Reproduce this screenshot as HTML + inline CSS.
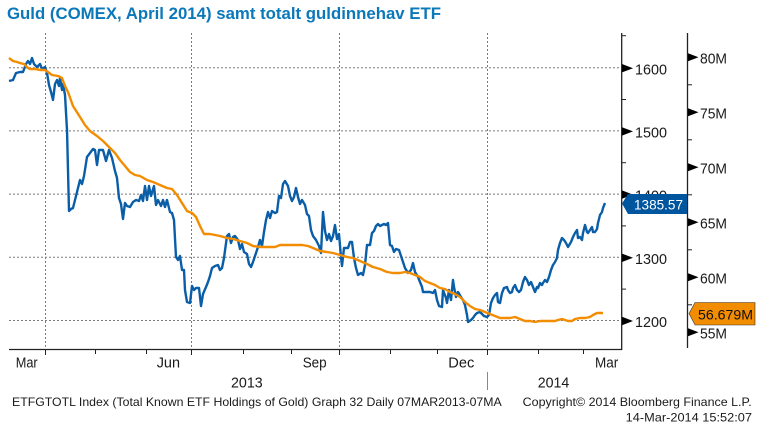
<!DOCTYPE html>
<html><head><meta charset="utf-8"><style>
html,body{margin:0;padding:0;background:#fff;}
svg{display:block;}
text{font-family:"Liberation Sans",sans-serif;}
</style></head><body>
<svg width="761" height="433" viewBox="0 0 761 433" xmlns="http://www.w3.org/2000/svg">
<rect width="761" height="433" fill="#fff"/>
<text x="7" y="19" font-size="16.5" font-weight="bold" fill="#0b78b9" textLength="434" lengthAdjust="spacingAndGlyphs">Guld (COMEX, April 2014) samt totalt guldinnehav ETF</text>

<!-- gridlines -->
<g stroke="#7a7a7a" stroke-width="1" stroke-dasharray="2,2" fill="none">
<line x1="9" y1="67.7" x2="621" y2="67.7"/>
<line x1="9" y1="130.9" x2="621" y2="130.9"/>
<line x1="9" y1="194.1" x2="621" y2="194.1"/>
<line x1="9" y1="257.3" x2="621" y2="257.3"/>
<line x1="9" y1="320.5" x2="621" y2="320.5"/>
<line x1="45.5" y1="33" x2="45.5" y2="349"/>
<line x1="191.5" y1="33" x2="191.5" y2="349"/>
<line x1="339.5" y1="33" x2="339.5" y2="349"/>
<line x1="487.5" y1="33" x2="487.5" y2="349"/>
</g>

<!-- axes -->
<g stroke="#222" stroke-width="1.3" fill="none">
<line x1="9" y1="349.5" x2="622" y2="349.5"/>
<line x1="621.7" y1="33" x2="621.7" y2="350"/>
<line x1="687.5" y1="33" x2="687.5" y2="348"/>
</g>
<g stroke="#222" stroke-width="1" fill="none">
<line x1="45.5" y1="349" x2="45.5" y2="355"/>
<line x1="95.5" y1="349" x2="95.5" y2="354"/>
<line x1="146.5" y1="349" x2="146.5" y2="354"/>
<line x1="191.5" y1="349" x2="191.5" y2="355"/>
<line x1="243.5" y1="349" x2="243.5" y2="354"/>
<line x1="291.5" y1="349" x2="291.5" y2="354"/>
<line x1="339.5" y1="349" x2="339.5" y2="355"/>
<line x1="390.5" y1="349" x2="390.5" y2="354"/>
<line x1="437.5" y1="349" x2="437.5" y2="354"/>
<line x1="487.5" y1="349" x2="487.5" y2="355"/>
<line x1="538.5" y1="349" x2="538.5" y2="354"/>
<line x1="583.5" y1="349" x2="583.5" y2="354"/>
<!-- minor ticks axis1 -->
<line x1="622" y1="35.7" x2="626" y2="35.7"/>
<line x1="622" y1="99.5" x2="626" y2="99.5"/>
<line x1="622" y1="162.7" x2="626" y2="162.7"/>
<line x1="622" y1="225.9" x2="626" y2="225.9"/>
<line x1="622" y1="289.1" x2="626" y2="289.1"/>
<!-- minor ticks axis2 -->
<line x1="688" y1="84.8" x2="692" y2="84.8"/>
<line x1="688" y1="139.8" x2="692" y2="139.8"/>
<line x1="688" y1="194.8" x2="692" y2="194.8"/>
<line x1="688" y1="249.8" x2="692" y2="249.8"/>
<line x1="688" y1="304.8" x2="692" y2="304.8"/>
</g>
<line x1="487.5" y1="372" x2="487.5" y2="390" stroke="#888" stroke-width="1"/>

<!-- arrows axis1 -->
<g fill="#000">
<polygon points="622,64 633,68.2 622,72.4"/>
<polygon points="622,127.2 633,131.4 622,135.6"/>
<polygon points="622,190.4 633,194.6 622,198.8"/>
<polygon points="622,253.6 633,257.8 622,262"/>
<polygon points="622,316.8 633,321 622,325.2"/>
<polygon points="688,53.3 698.5,57.3 688,61.3"/>
<polygon points="688,108.3 698.5,112.3 688,116.3"/>
<polygon points="688,163.3 698.5,167.3 688,171.3"/>
<polygon points="688,218.3 698.5,222.3 688,226.3"/>
<polygon points="688,273.3 698.5,277.3 688,281.3"/>
<polygon points="688,328.3 698.5,332.3 688,336.3"/>
</g>

<g font-size="15" fill="#1a1a1a">
<text x="635" y="74.3" textLength="32" lengthAdjust="spacingAndGlyphs">1600</text>
<text x="635" y="137.5" textLength="32" lengthAdjust="spacingAndGlyphs">1500</text>
<text x="635" y="200.7" textLength="32" lengthAdjust="spacingAndGlyphs">1400</text>
<text x="635" y="263.9" textLength="32" lengthAdjust="spacingAndGlyphs">1300</text>
<text x="635" y="327" textLength="32" lengthAdjust="spacingAndGlyphs">1200</text>
<text x="700" y="63.3" textLength="27" lengthAdjust="spacingAndGlyphs">80M</text>
<text x="700" y="118.3" textLength="27" lengthAdjust="spacingAndGlyphs">75M</text>
<text x="700" y="173.3" textLength="27" lengthAdjust="spacingAndGlyphs">70M</text>
<text x="700" y="228.3" textLength="27" lengthAdjust="spacingAndGlyphs">65M</text>
<text x="700" y="283.3" textLength="27" lengthAdjust="spacingAndGlyphs">60M</text>
<text x="700" y="338.3" textLength="27" lengthAdjust="spacingAndGlyphs">55M</text>
<text x="15.7" y="367.7" textLength="22" lengthAdjust="spacingAndGlyphs">Mar</text>
<text x="156.7" y="367.7" textLength="23.3" lengthAdjust="spacingAndGlyphs">Jun</text>
<text x="302.7" y="367.7" textLength="24" lengthAdjust="spacingAndGlyphs">Sep</text>
<text x="448.3" y="367.7" textLength="26" lengthAdjust="spacingAndGlyphs">Dec</text>
<text x="595" y="367.7" textLength="23.3" lengthAdjust="spacingAndGlyphs">Mar</text>
<text x="231" y="387.3" textLength="31.7" lengthAdjust="spacingAndGlyphs">2013</text>
<text x="537.7" y="387.3" textLength="31.6" lengthAdjust="spacingAndGlyphs">2014</text>
</g>
<g font-size="12" fill="#1a1a1a">
<text x="12" y="406" textLength="489.7" lengthAdjust="spacingAndGlyphs">ETFGTOTL Index (Total Known ETF Holdings of Gold) Graph 32  Daily 07MAR2013-07MA</text>
<text x="522.7" y="406" textLength="229" lengthAdjust="spacingAndGlyphs">Copyright© 2014 Bloomberg Finance L.P.</text>
<text x="625.7" y="421.7" textLength="126.3" lengthAdjust="spacingAndGlyphs">14-Mar-2014 15:52:07</text>
</g>

<!-- blue series -->
<polyline fill="none" stroke="#0a5ea8" stroke-width="2.4" stroke-linejoin="round" points="9,81 13,80 16,73 20,72 23,72 26,64 28,61 30,64 32,58 34,64 37,67 40,64 42,69 45,67 47,73 49,85 51,92 53,100 55,84 57,80 59,86 60,78 62,90 63,84 65,95 67,130 69,211 71,209 73,208 75,200 78,188 80,180 82,184 84,176 87,157 90,153 93,149 95,150 97,165 99,150 103,150 106,161 109,150 112,158 115,171 117,178 119,198 121,204 123,219 125,203 127,206 130,207 133,202 136,200 139,201 141,195 143,201 145,186 147,200 149,186 151,196 154,186 156,205 158,200 161,206 163,200 165,207 167,200 170,212 172,213 174,220 176,257 178,260 180,256 182,270 184,270 185,290 187,302 190,303 192,286 194,290 196,288 199,288 201,306 203,294 206,287 208,282 210,276 212,268 215,266 218,265 220,270 222,268 224,258 227,236 229,234 231,243 233,237 235,236 238,240 240,249 242,244 244,252 247,254 249,264 251,267 253,262 256,253 258,247 260,240 262,246 264,232 266,220 268,212 270,218 272,211 275,213 277,212 279,196 281,198 283,184 285,181 288,186 290,196 292,201 294,197 296,188 298,197 300,204 302,200 305,205 307,214 309,216 311,230 313,236 316,240 319,246 321,253 323,212 325,231 327,240 329,234 331,241 333,236 335,225 337,239 339,234 341,257 342,266 344,248 346,248 348,248 350,242 352,242 354,258 356,268 358,275 361,273 363,275 365,265 367,245 370,245 372,233 374,231 376,226 378,224 380,226 382,225 384,224 386,225 388,223 390,245 392,246 394,252 396,249 399,250 402,259 405,268 408,273 411,270 413,263 415,272 418,277 422,287 423,292 427,292 430,292 433,293 435,290 437,300 439,306 442,307 443,290 446,298 447,303 449,290 451,300 453,280 454,287 456,297 458,292 461,297 463,300 465,305 467,315 468,322 471,320 473,318 475,315 477,313 480,312 482,314 484,316 487,317 489,315 491,303 493,298 495,295 497,293 498,302 500,303 502,293 504,288 507,287 508,290 510,293 512,292 513,288 515,285 517,290 519,292 521,290 523,282 525,277 527,280 529,285 531,282 533,287 535,292 537,287 538,288 540,283 542,285 543,283 545,280 547,282 549,277 551,270 553,265 555,262 557,258 558,250 560,243 562,238 564,240 566,243 568,247 571,242 573,237 575,233 577,230 578,238 580,237 582,240 583,233 585,225 587,232 588,233 590,230 592,227 593,232 595,232 597,229 598,223 600,215 602,212 603,208 605,203"/>

<!-- orange series -->
<polyline fill="none" stroke="#f28c00" stroke-width="2.4" stroke-linejoin="round" points="9,58 13,61 17,62 20,63 24,64 28,68 30,69 35,69 40,70 45,70 48,72 52,75 58,76 62,78 65,86 68,92 73,106 80,117 85,125 90,131 97,136 103,141 110,148 115,153 120,160 125,166 130,172 135,175 140,176 147,180 153,182 160,185 167,188 172,189 177,195 182,203 187,211 192,213 196,217 200,226 204,234 210,234 215,235 220,236 227,238 233,239 240,241 247,243 253,246 260,247 267,247 275,247 280,245 287,245 295,245 302,245 308,246 313,248 320,251 327,252 333,253 340,255 347,257 353,258 360,261 367,264 373,267 380,269 387,272 393,273 400,273 405,272 410,273 415,275 420,277 425,281 430,283 435,285 440,288 445,289 450,292 455,294 460,297 465,302 470,306 475,309 480,310 485,312 490,314 495,316 500,318 505,318 510,318 515,317 520,319 525,321 530,321 535,322 540,321 545,321 550,321 555,321 558,320 562,319 565,320 568,321 572,321 575,319 580,318 585,318 590,317 593,315 597,313 600,313 603,313"/>

<!-- value labels -->
<polygon points="622,203.5 628,194 687,194 687,214 628,214" fill="#00559f"/>
<text x="634" y="209.5" font-size="14" fill="#fff" textLength="49" lengthAdjust="spacingAndGlyphs">1385.57</text>
<polygon points="689,313.5 695,302.5 755,302.5 755,325 695,325" fill="#f28c00" stroke="#333" stroke-width="0.6"/>
<text x="698" y="319.5" font-size="14" fill="#111" textLength="55" lengthAdjust="spacingAndGlyphs">56.679M</text>
</svg>
</body></html>
